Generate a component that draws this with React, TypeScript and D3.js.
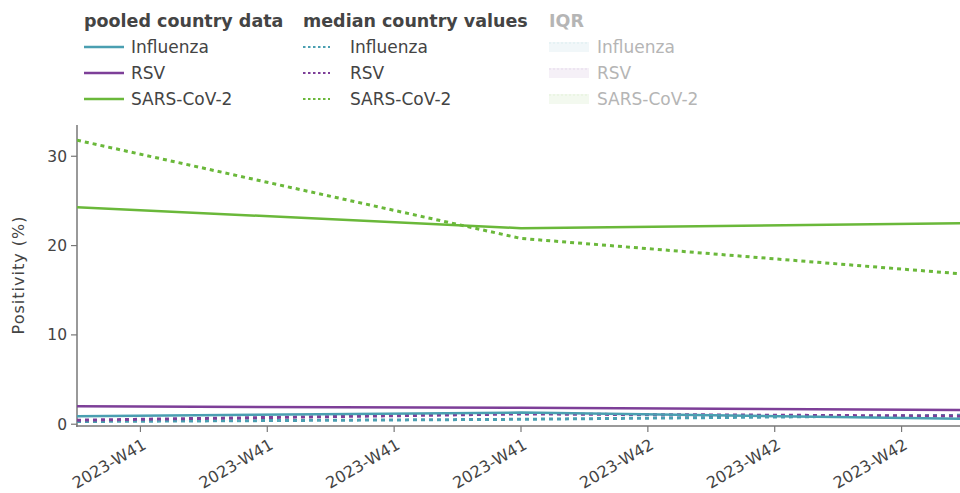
import * as d3 from "d3";

// weekly points (week-ending dates)
const DATES = [new Date(2023, 9, 8), new Date(2023, 9, 15), new Date(2023, 9, 22)];

const POOLED_FLU = [0.9, 1.3, 0.6];
const POOLED_RSV = [2.0, 1.85, 1.6];
const POOLED_COV = [24.3, 21.95, 22.5];

const MEDIAN_FLU = [0.3, 0.55, 1.0];
const MEDIAN_RSV = [0.45, 1.15, 0.9];
const MEDIAN_COV = [31.8, 20.8, 16.8];

const Y_TICKS = [0, 10, 20, 30];
const VIRUSES = ["Influenza", "RSV", "SARS-CoV-2"];
const COLORS = ["#4a9fb1", "#7d3f98", "#6ab83a"];
const GROUPS = ["pooled country data", "median country values", "IQR"];

const W = 960, H = 493;
const FONT = "'DejaVu Sans', Verdana, sans-serif";
const TEXT = "#444";

export default function App() {
  const x = d3.scaleTime().domain([DATES[0], DATES[2]]).range([77, 965]);
  const y = d3.scaleLinear().domain([-0.2, 33.5]).range([426, 125]);
  const line = d3.line<number>().x((_, i) => x(DATES[i])).y(d => y(d));
  const fmt = d3.timeFormat("%G-W%V");
  const xTicks = x.ticks(d3.timeDay.every(2)!);

  const pooled = [POOLED_FLU, POOLED_RSV, POOLED_COV];
  const median = [MEDIAN_FLU, MEDIAN_RSV, MEDIAN_COV];

  const colX = [84, 303, 549];
  const textX = [131, 350, 597];

  return (
    <svg width={W} height={H} style={{ position: "absolute", left: 0, top: 0, background: "#fff" }} fontFamily={FONT}>
      <defs>
        <clipPath id="plot">
          <rect x={77} y={120} width={W - 77} height={310} />
        </clipPath>
      </defs>

      {/* legend */}
      {GROUPS.map((g, gi) => (
        <g key={g}>
          <text x={colX[gi]} y={27} fontSize={17.5} fontWeight="bold" fill={gi === 2 ? "#b5b5b5" : TEXT}>{g}</text>
          {VIRUSES.map((v, vi) => {
            const cy = 47 + vi * 26;
            return (
              <g key={v}>
                {gi === 0 && <line x1={84} x2={124} y1={cy} y2={cy} stroke={COLORS[vi]} strokeWidth={2.5} />}
                {gi === 1 && <line x1={303} x2={330} y1={cy} y2={cy} stroke={COLORS[vi]} strokeWidth={2} strokeDasharray="2.5,2.5" />}
                {gi === 2 && (
                  <g opacity={0.15}>
                    <rect x={549} y={cy - 5} width={40} height={10} fill={COLORS[vi]} opacity={0.5} />
                    <line x1={549} x2={589} y1={cy - 4} y2={cy - 4} stroke={COLORS[vi]} strokeWidth={1.5} strokeDasharray="2,2" />
                  </g>
                )}
                <text x={textX[gi]} y={cy + 6} fontSize={17} fill={gi === 2 ? "#b5b5b5" : TEXT}>{v}</text>
              </g>
            );
          })}
        </g>
      ))}

      {/* y axis */}
      <line x1={77} x2={77} y1={125} y2={427} stroke="#777" strokeWidth={1.5} />
      {Y_TICKS.map(t => (
        <g key={t} transform={`translate(77,${y(t)})`}>
          <line x1={-6} x2={0} stroke="#777" strokeWidth={1.2} />
          <text x={-10} dy="0.35em" textAnchor="end" fontSize={15.5} fill={TEXT}>{t}</text>
        </g>
      ))}
      <text transform={`translate(24,275) rotate(-90)`} textAnchor="middle" fontSize={16} letterSpacing={1} fill={TEXT}>Positivity (%)</text>

      {/* x axis */}
      <line x1={76} x2={W} y1={426} y2={426} stroke="#777" strokeWidth={1.5} />
      {xTicks.map(t => (
        <g key={+t} transform={`translate(${x(t)},426)`}>
          <line y1={0} y2={6} stroke="#777" strokeWidth={1.2} />
          <text transform="translate(7,22) rotate(-30)" textAnchor="end" fontSize={16} fill={TEXT}>{fmt(t)}</text>
        </g>
      ))}

      {/* series */}
      <g clipPath="url(#plot)" fill="none">
        {median.map((s, i) => (
          <path key={"m" + i} d={line(s)!} stroke={COLORS[i]} strokeWidth={3} strokeDasharray="4,4" />
        ))}
        {pooled.map((s, i) => (
          <path key={"p" + i} d={line(s)!} stroke={COLORS[i]} strokeWidth={2.5} />
        ))}
      </g>
    </svg>
  );
}
